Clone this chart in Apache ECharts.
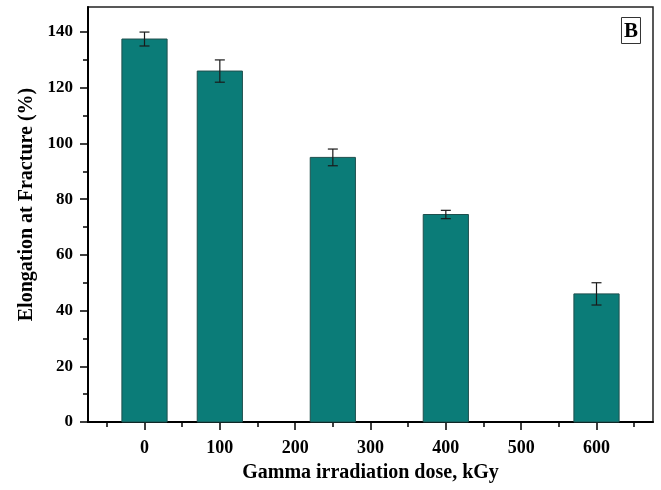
<!DOCTYPE html>
<html>
<head>
<meta charset="utf-8">
<script src="https://cdn.jsdelivr.net/npm/echarts@6/dist/echarts.min.js"></script>
<style>html,body{margin:0;padding:0;background:#fff;}#chart{width:661px;height:490px;}</style>
</head>
<body>
<div id="chart"></div>
<script>
const doses = [0, 100, 250, 400, 600];
const elongation = [137.5, 126.0, 95.0, 74.5, 46.0];
const errors = [2.5, 4.0, 3.0, 1.5, 4.0];
const xTickLabels = [0, 100, 200, 300, 400, 500, 600];
const xMinorTicks = [-50, 50, 150, 250, 350, 450, 550, 650];
const yTickLabels = [0, 20, 40, 60, 80, 100, 120, 140];
const yMinorTicks = [10, 30, 50, 70, 90, 110, 130];

const font = 'Liberation Serif';
const chart = echarts.init(document.getElementById('chart'));
const barData = doses.map((d, i) => [d, elongation[i]]);
const errData = doses.map((d, i) => [d, elongation[i] - errors[i], elongation[i] + errors[i]]);

chart.setOption({
  animation: false,
  backgroundColor: '#fff',
  title: {
    text: 'B', right: 20, top: 17,
    borderColor: '#333', borderWidth: 1, padding: [4, 3, 2, 3],
    textStyle: { fontFamily: font, fontWeight: 'bold', fontSize: 21, lineHeight: 21, color: '#000' }
  },
  grid: { left: 88, right: 8, top: 7, bottom: 68, show: true, borderColor: '#222', borderWidth: 1.5 },
  xAxis: [{
    type: 'value', min: -75, max: 675,
    name: 'Gamma irradiation dose, kGy', nameLocation: 'middle', nameGap: 41,
    nameTextStyle: { fontFamily: font, fontWeight: 'bold', fontSize: 20, color: '#000' },
    axisLine: { show: true, onZero: false, lineStyle: { color: '#000', width: 2 } },
    axisTick: { show: true, customValues: xTickLabels, length: 8, lineStyle: { color: '#000', width: 1.5 } },
    axisLabel: { customValues: xTickLabels, margin: 17, fontFamily: font, fontWeight: 'bold', fontSize: 18, color: '#000' },
    splitLine: { show: false }
  }, {
    type: 'value', min: -75, max: 675, position: 'bottom',
    axisLine: { show: false, onZero: false },
    axisTick: { show: true, customValues: xMinorTicks, length: 5, lineStyle: { color: '#000', width: 1.5 } },
    axisLabel: { show: false },
    splitLine: { show: false }
  }],
  yAxis: [{
    type: 'value', min: 0, max: 149,
    name: 'Elongation at Fracture (%)', nameLocation: 'middle', nameGap: 50,
    nameTextStyle: { fontFamily: font, fontWeight: 'bold', fontSize: 20, color: '#000', padding: [0, 0, 0, 20] },
    axisLine: { show: true, onZero: false, lineStyle: { color: '#000', width: 2 } },
    axisTick: { show: true, customValues: yTickLabels, length: 8, lineStyle: { color: '#000', width: 1.5 } },
    axisLabel: { customValues: yTickLabels, margin: 15, fontFamily: font, fontWeight: 'bold', fontSize: 17, color: '#000' },
    splitLine: { show: false }
  }, {
    type: 'value', min: 0, max: 149, position: 'left',
    axisLine: { show: false, onZero: false },
    axisTick: { show: true, customValues: yMinorTicks, length: 5, lineStyle: { color: '#000', width: 1.5 } },
    axisLabel: { show: false },
    splitLine: { show: false }
  }],
  series: [{
    type: 'custom',
    renderItem: function (params, api) {
      const x = api.value(0), y = api.value(1);
      const top = api.coord([x, y]);
      const base = api.coord([x, 0]);
      const w = api.size([60, 0])[0];
      return {
        type: 'rect',
        shape: { x: top[0] - w / 2, y: top[1], width: w, height: base[1] - top[1] },
        style: { fill: '#0b7c78', stroke: '#1f4f4d', lineWidth: 1 }
      };
    },
    data: barData,
    z: 2
  }, {
    type: 'custom',
    renderItem: function (params, api) {
      const x = api.value(0);
      const lo = api.coord([x, api.value(1)]);
      const hi = api.coord([x, api.value(2)]);
      const cw = 5;
      const st = { stroke: '#1a1a1a', lineWidth: 1.2 };
      return {
        type: 'group',
        children: [
          { type: 'line', shape: { x1: lo[0], y1: lo[1], x2: hi[0], y2: hi[1] }, style: st },
          { type: 'line', shape: { x1: lo[0] - cw, y1: lo[1], x2: lo[0] + cw, y2: lo[1] }, style: st },
          { type: 'line', shape: { x1: hi[0] - cw, y1: hi[1], x2: hi[0] + cw, y2: hi[1] }, style: st }
        ]
      };
    },
    data: errData,
    z: 3
  }]
});
</script>
</body>
</html>
